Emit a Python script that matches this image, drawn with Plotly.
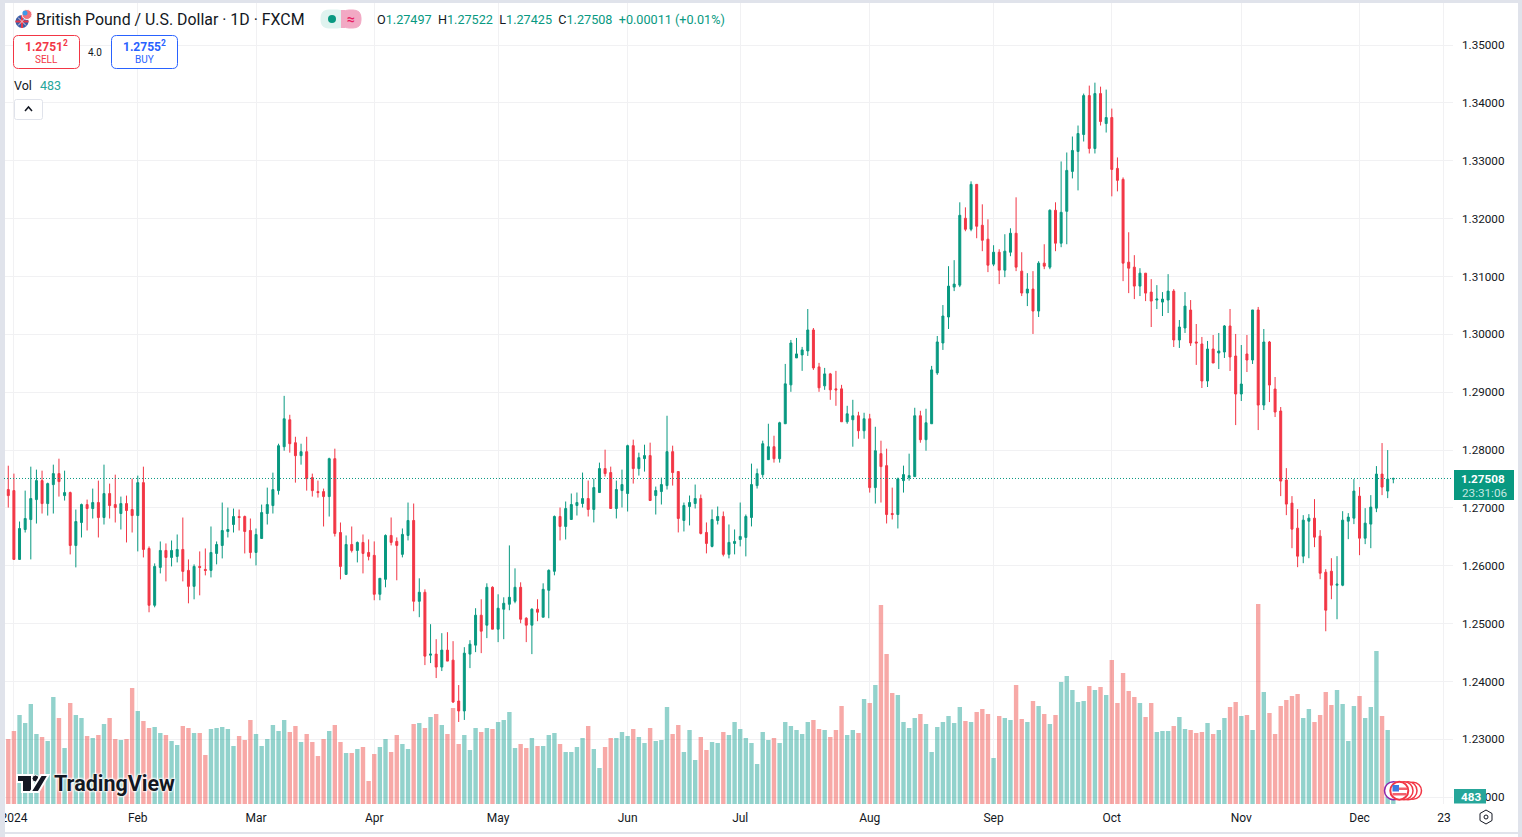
import plotly.graph_objects as go

# daily GBP/USD candles, weekdays from 1 Jan 2024 to 10 Dec 2024
opens = [
    1.27316,1.27298,1.26109,1.26626,1.26798,1.27143,1.27471,1.27074,1.27402,1.27592,
    1.27212,1.27264,1.26350,1.26747,1.27057,1.26988,1.27092,1.26833,1.27247,1.27057,
    1.26902,1.27074,1.26971,1.26867,1.27436,1.26298,1.25316,1.25971,1.26264,1.26143,
    1.26161,1.26281,1.25919,1.25643,1.25988,1.25936,1.25919,1.26212,1.26350,1.26592,
    1.26712,1.26850,1.26850,1.26609,1.26229,1.26471,1.26902,1.27040,1.27298,1.28057,
    1.28523,1.28126,1.27902,1.27971,1.27523,1.27281,1.27281,1.27195,1.27850,1.26574,
    1.25850,1.26367,1.26264,1.26402,1.26229,1.26179,1.25506,1.25765,1.26523,1.26420,
    1.26196,1.26523,1.26782,1.25385,1.25541,1.24454,1.24472,1.24248,1.24541,1.24368,
    1.23661,1.23489,1.24472,1.24627,1.25144,1.24972,1.25627,1.24903,1.25248,1.25334,
    1.25385,1.25627,1.25092,1.24972,1.25248,1.25110,1.25575,1.25903,1.26851,1.26679,
    1.26799,1.27041,1.27075,1.27161,1.26972,1.27265,1.27679,1.27610,1.26989,1.27299,
    1.27248,1.28075,1.27679,1.27851,1.27903,1.27213,1.27282,1.27385,1.27972,1.27627,
    1.26782,1.27023,1.27075,1.27161,1.26575,1.26334,1.26782,1.26851,1.26196,1.26385,
    1.26454,1.26489,1.26834,1.27385,1.27575,1.27833,1.28057,1.27850,1.28454,1.29126,
    1.29592,1.29644,1.29713,1.30075,1.29437,1.29109,1.29316,1.29057,1.29057,1.28488,
    1.28523,1.28592,1.28333,1.28540,1.27350,1.27937,1.27730,1.26902,1.26885,1.27471,
    1.27523,1.27540,1.28592,1.28178,1.28454,1.29333,1.29850,1.30299,1.30816,1.30850,
    1.32006,1.31816,1.32592,1.31885,1.31644,1.31213,1.31419,1.31109,1.31419,1.31747,
    1.31092,1.30713,1.30782,1.30402,1.31230,1.31161,1.32144,1.31575,1.32126,1.32816,
    1.33161,1.33454,1.34126,1.33212,1.34161,1.33643,1.33747,1.32868,1.32678,1.31247,
    1.31161,1.30833,1.31057,1.30730,1.30592,1.30557,1.30592,1.30747,1.29902,1.30109,
    1.30419,1.29868,1.29833,1.29193,1.29746,1.29677,1.29694,1.30144,1.29625,1.28968,
    1.29660,1.29556,1.30421,1.28777,1.29867,1.29054,1.28674,1.27480,1.27082,1.26649,
    1.26165,1.26770,1.26822,1.26511,1.25888,1.25905,1.25663,1.25663,1.26770,1.26822,
    1.27203,1.26476,1.26719,1.26995,1.27584,1.27290,1.27497,
]
highs = [
    1.27729,1.27592,1.26764,1.27298,1.27712,1.27661,1.27643,1.27436,1.27747,1.27850,
    1.27643,1.27281,1.26971,1.27074,1.27143,1.27333,1.27471,1.27747,1.27419,1.27574,
    1.27195,1.27212,1.27505,1.27557,1.27712,1.26333,1.26040,1.26419,1.26385,1.26436,
    1.26540,1.26833,1.26109,1.26023,1.26247,1.26298,1.26678,1.26419,1.27092,1.27005,
    1.26988,1.26971,1.26867,1.26816,1.26643,1.27057,1.27350,1.27609,1.28109,1.28936,
    1.28609,1.28229,1.28109,1.28229,1.27592,1.27471,1.27333,1.27867,1.28023,1.26747,
    1.26523,1.26678,1.26419,1.26540,1.26454,1.26420,1.25782,1.26541,1.26834,1.26489,
    1.26644,1.27092,1.27075,1.25782,1.25592,1.24989,1.24730,1.24834,1.24851,1.24696,
    1.23937,1.24592,1.24713,1.25265,1.25420,1.25696,1.25644,1.25506,1.25454,1.26351,
    1.25954,1.25713,1.25110,1.25265,1.25420,1.25696,1.25937,1.26868,1.27006,1.27110,
    1.27248,1.27265,1.27610,1.27472,1.27506,1.27782,1.28006,1.27713,1.27472,1.27661,
    1.28092,1.28179,1.27954,1.28092,1.28127,1.27368,1.27523,1.28592,1.28075,1.27627,
    1.27092,1.27213,1.27403,1.27230,1.26748,1.26972,1.27023,1.26937,1.26713,1.26627,
    1.27092,1.26885,1.27765,1.27679,1.28161,1.28454,1.28247,1.28488,1.29488,1.29902,
    1.29937,1.29782,1.30437,1.30109,1.29506,1.29419,1.29333,1.29368,1.29126,1.28764,
    1.28868,1.28661,1.28644,1.28626,1.28402,1.28161,1.28023,1.27350,1.27523,1.27730,
    1.27937,1.28730,1.28678,1.28713,1.29454,1.29971,1.30506,1.31178,1.31282,1.32282,
    1.32195,1.32644,1.32592,1.32247,1.31988,1.31540,1.31471,1.31730,1.31833,1.32368,
    1.31419,1.31057,1.31092,1.31264,1.31557,1.32161,1.32282,1.32988,1.33143,1.33419,
    1.33609,1.34161,1.34299,1.34350,1.34281,1.34230,1.33902,1.33057,1.32712,1.31764,
    1.31368,1.31143,1.31057,1.30954,1.30850,1.30730,1.31040,1.30781,1.30247,1.30730,
    1.30592,1.30178,1.29954,1.29885,1.29988,1.30023,1.30161,1.30438,1.30006,1.29815,
    1.29988,1.30421,1.30473,1.30092,1.29885,1.29262,1.28743,1.27687,1.27203,1.26978,
    1.26874,1.26892,1.27151,1.26615,1.25940,1.26130,1.26165,1.26943,1.26909,1.27497,
    1.27359,1.26995,1.27220,1.27722,1.28120,1.27999,1.27522,
]
lows = [
    1.27005,1.26100,1.26100,1.26574,1.26109,1.26729,1.26902,1.26867,1.26902,1.27195,
    1.27126,1.26195,1.25971,1.26488,1.26609,1.26816,1.26488,1.26712,1.26816,1.26747,
    1.26626,1.26402,1.26574,1.26247,1.26143,1.25195,1.25281,1.25867,1.25729,1.25988,
    1.26057,1.25729,1.25350,1.25419,1.25488,1.25833,1.25798,1.26023,1.26126,1.26488,
    1.26574,1.26609,1.26212,1.26126,1.26005,1.26471,1.26712,1.26902,1.27229,1.27988,
    1.27954,1.27436,1.27747,1.27298,1.27195,1.27178,1.26678,1.26850,1.26505,1.25764,
    1.25850,1.26229,1.26057,1.25867,1.26092,1.25403,1.25403,1.25627,1.26351,1.25748,
    1.26144,1.26437,1.25213,1.25110,1.24282,1.24317,1.24058,1.24179,1.24351,1.23627,
    1.23299,1.23334,1.24230,1.24506,1.24489,1.24748,1.24903,1.24679,1.24730,1.25230,
    1.25351,1.25006,1.24679,1.24472,1.25041,1.25110,1.25092,1.25834,1.26437,1.26454,
    1.26799,1.26868,1.27006,1.26851,1.26748,1.27265,1.27541,1.26989,1.26817,1.27006,
    1.26937,1.27420,1.27558,1.27627,1.27127,1.26885,1.27058,1.27317,1.27385,1.26575,
    1.26592,1.26696,1.26989,1.26541,1.26213,1.26317,1.26713,1.26161,1.26127,1.26196,
    1.26334,1.26161,1.26679,1.27334,1.27523,1.27833,1.27782,1.27782,1.28454,1.29006,
    1.29592,1.29368,1.29626,1.29385,1.29006,1.29040,1.28868,1.28764,1.28488,1.28454,
    1.28057,1.28195,1.28195,1.27264,1.27075,1.27092,1.26730,1.26799,1.26644,1.27264,
    1.27471,1.27540,1.28126,1.27988,1.28454,1.29299,1.29730,1.30092,1.30747,1.30816,
    1.31782,1.31782,1.31661,1.31437,1.31075,1.31178,1.30868,1.30988,1.31350,1.31092,
    1.30661,1.30488,1.30006,1.30299,1.31126,1.31126,1.31437,1.31506,1.31557,1.32695,
    1.32488,1.33333,1.33126,1.33126,1.33609,1.33488,1.32385,1.32471,1.30919,1.30712,
    1.30609,1.30661,1.30574,1.30126,1.30436,1.30316,1.30368,1.29781,1.29764,1.30023,
    1.29799,1.29471,1.29072,1.29089,1.29504,1.29400,1.29591,1.29366,1.28431,1.28847,
    1.29348,1.29487,1.28345,1.28691,1.28829,1.28570,1.27203,1.26874,1.26303,1.25975,
    1.26044,1.26130,1.26321,1.25767,1.24867,1.25421,1.25075,1.25646,1.26459,1.26719,
    1.26182,1.26373,1.26303,1.26926,1.27220,1.27168,1.27425,
]
closes = [
    1.27212,1.26109,1.26643,1.26816,1.27161,1.27471,1.27074,1.27419,1.27592,1.27454,
    1.27264,1.26350,1.26764,1.27057,1.26988,1.27092,1.26833,1.27247,1.27040,1.27005,
    1.27074,1.26954,1.26867,1.27436,1.26281,1.25316,1.25988,1.26264,1.26143,1.26264,
    1.26281,1.25902,1.25643,1.25988,1.25971,1.25919,1.26229,1.26367,1.26609,1.26626,
    1.26850,1.26833,1.26592,1.26229,1.26540,1.26919,1.27057,1.27316,1.28074,1.28540,
    1.28109,1.27902,1.27971,1.27505,1.27298,1.27264,1.27195,1.27850,1.26557,1.25988,
    1.26367,1.26264,1.26402,1.26212,1.26161,1.25506,1.25782,1.26523,1.26403,1.26351,
    1.26541,1.26782,1.25385,1.25541,1.24437,1.24472,1.24248,1.24541,1.24351,1.23644,
    1.23489,1.24489,1.24644,1.25144,1.24868,1.25627,1.24903,1.25265,1.25351,1.25454,
    1.25627,1.25075,1.24972,1.25248,1.25196,1.25592,1.25920,1.26851,1.26679,1.26989,
    1.27058,1.27092,1.27161,1.26972,1.27351,1.27679,1.27592,1.26989,1.27317,1.27403,
    1.28075,1.27679,1.27868,1.27903,1.27127,1.27299,1.27403,1.27972,1.27610,1.26817,
    1.27041,1.27092,1.27161,1.26558,1.26385,1.26799,1.26851,1.26196,1.26403,1.26420,
    1.26506,1.26851,1.27403,1.27592,1.28109,1.28057,1.27850,1.28471,1.29144,1.29850,
    1.29661,1.29730,1.30075,1.29419,1.29075,1.29316,1.29040,1.29040,1.28488,1.28626,
    1.28592,1.28333,1.28540,1.27350,1.27988,1.27713,1.26885,1.26885,1.27500,1.27575,
    1.27557,1.28592,1.28178,1.28471,1.29385,1.29868,1.30316,1.30833,1.30868,1.32057,
    1.31816,1.32592,1.31868,1.31626,1.31195,1.31419,1.31109,1.31437,1.31747,1.31161,
    1.30713,1.30782,1.30402,1.31230,1.31178,1.32144,1.31575,1.32109,1.32833,1.33178,
    1.33471,1.34126,1.33212,1.34161,1.33678,1.33747,1.32850,1.32661,1.31230,1.31143,
    1.30833,1.31057,1.30712,1.30574,1.30609,1.30609,1.30747,1.29902,1.30126,1.30488,
    1.29850,1.29850,1.29193,1.29746,1.29504,1.29712,1.30144,1.29608,1.28968,1.29141,
    1.29556,1.30421,1.28777,1.29867,1.29123,1.28656,1.27463,1.27065,1.26632,1.26165,
    1.26788,1.26822,1.26494,1.25871,1.25231,1.25663,1.25681,1.26788,1.26840,1.27290,
    1.26476,1.26736,1.27013,1.27584,1.27359,1.27497,1.27508,
]
volumes = [
    3900,4380,5340,4860,6000,4200,4020,3780,6420,5160,
    3360,6060,5340,5160,4080,3960,4140,4800,5160,3900,
    3840,3900,6960,5580,4980,4560,4620,4260,4140,3780,
    3540,4680,4560,4260,4260,2940,4500,4560,4620,4500,
    3480,4080,3840,5040,4200,3480,3900,4740,4380,5040,
    4320,4680,3720,4200,3720,2880,3900,4380,4740,3720,
    3060,3060,3300,3420,1380,3000,3420,3900,3120,4140,
    3600,3300,4800,4860,4560,5220,5400,4740,4200,5760,
    3600,4140,3240,4560,4320,4560,4500,4920,5040,5520,
    3360,3600,3360,3960,3480,3480,4140,4260,3600,3120,
    3120,3420,3960,4680,3300,2160,3420,3960,3960,4320,
    4080,4500,4020,3660,4560,3780,3840,5820,4200,4740,
    3120,4440,2640,4020,3240,3720,3660,4320,4140,4920,
    4500,3960,3660,2400,4320,3840,3960,3660,4920,4680,
    4440,4200,4920,5040,4500,4440,4020,4440,5880,4140,
    4440,4260,6300,6060,7140,11940,9000,6660,6540,4920,
    4560,5160,5400,4800,3120,4620,4920,5280,4860,5820,
    4980,4920,5520,5700,5400,2760,5280,5160,5040,7140,
    5100,4920,6180,5880,5400,4800,5340,7320,7680,6840,
    6120,6180,7080,6840,7020,6540,8640,6060,7860,6780,
    6420,6060,5220,6060,4320,4380,4380,4680,5220,4500,
    4440,4260,4320,4860,4200,4440,5160,5820,6120,5280,
    5340,4440,12000,6720,5460,4200,5880,6240,6480,6600,
    5160,5700,4920,5340,6720,5940,6840,6000,3780,5880,
    6480,5160,5820,9180,5280,4440,483,
]
tick_bars = [1, 23, 44, 65, 87, 110, 130, 153, 175, 196, 219, 240, 255]
tick_labels = ["2024", "Feb", "Mar", "Apr", "May", "Jun", "Jul", "Aug", "Sep", "Oct", "Nov", "Dec", "23"]
price_ticks = [1.22, 1.23, 1.24, 1.25, 1.26, 1.27, 1.28, 1.29, 1.30, 1.31, 1.32, 1.33, 1.34, 1.35]

UP = "#089981"
DOWN = "#f23645"
TEXT = "#131722"
FRAME = "#e0e3eb"
GRID = "#f1f1f3"
FONT = "Roboto"

W, H = 1522, 837
LEFT, RIGHT, TOP, BOTTOM = 4, 1453, 3, 804


def px(x):
    return (x - LEFT) / (RIGHT - LEFT)


def py(y):
    return (BOTTOM - y) / (BOTTOM - TOP)


bars = list(range(len(opens)))
vol_colors = ["rgba(38,166,154,0.5)" if c >= o else "rgba(239,83,80,0.5)" for o, c in zip(opens, closes)]

fig = go.Figure()
fig.add_trace(go.Bar(x=bars, y=volumes, marker_color=vol_colors, marker_line_width=0, width=0.78,
                     yaxis="y", showlegend=False))
fig.add_trace(go.Candlestick(
    x=bars, open=opens, high=highs, low=lows, close=closes, yaxis="y2", whiskerwidth=0,
    increasing=dict(line=dict(color=UP, width=1), fillcolor=UP),
    decreasing=dict(line=dict(color=DOWN, width=1), fillcolor=DOWN),
    showlegend=False,
))

shapes = []
annotations = []


def rect(x0, y0, x1, y1, fill=None, line=None, width=1, layer="above"):
    shapes.append(dict(type="rect", xref="paper", yref="paper", x0=px(x0), x1=px(x1), y0=py(y0), y1=py(y1),
                       fillcolor=fill or "rgba(0,0,0,0)", line=dict(color=line or "rgba(0,0,0,0)", width=width if line else 0),
                       layer=layer))


def circle(cx, cy, r, fill=None, line=None, width=1):
    shapes.append(dict(type="circle", xref="paper", yref="paper", x0=px(cx - r), x1=px(cx + r), y0=py(cy + r), y1=py(cy - r),
                       fillcolor=fill or "rgba(0,0,0,0)", line=dict(color=line or "rgba(0,0,0,0)", width=width if line else 0),
                       layer="above"))


def outline(points, fill=None, line=None, width=1):
    path = "M " + " L ".join(f"{px(x)},{py(y)}" for x, y in points) + " Z"
    shapes.append(dict(type="path", xref="paper", yref="paper", path=path,
                       fillcolor=fill or "rgba(0,0,0,0)", line=dict(color=line or "rgba(0,0,0,0)", width=width if line else 0),
                       layer="above"))


def rounded(x0, y0, x1, y1, r, line, fill="#ffffff"):
    pts = f"M {px(x0 + r)},{py(y0)} L {px(x1 - r)},{py(y0)} Q {px(x1)},{py(y0)} {px(x1)},{py(y0 + r)} "
    pts += f"L {px(x1)},{py(y1 - r)} Q {px(x1)},{py(y1)} {px(x1 - r)},{py(y1)} "
    pts += f"L {px(x0 + r)},{py(y1)} Q {px(x0)},{py(y1)} {px(x0)},{py(y1 - r)} "
    pts += f"L {px(x0)},{py(y0 + r)} Q {px(x0)},{py(y0)} {px(x0 + r)},{py(y0)} Z"
    shapes.append(dict(type="path", xref="paper", yref="paper", path=pts, fillcolor=fill,
                       line=dict(color=line, width=1), layer="above"))


def segment(x0, y0, x1, y1, color, width):
    shapes.append(dict(type="line", xref="paper", yref="paper", x0=px(x0), x1=px(x1), y0=py(y0), y1=py(y1),
                       line=dict(color=color, width=width), layer="above"))


def label(x, y, text, size=12, color=TEXT, anchor="left", **font):
    annotations.append(dict(xref="paper", yref="paper", x=px(x), y=py(y), text=text, showarrow=False,
                            xanchor=anchor, yanchor="middle", borderpad=0,
                            font=dict(family=FONT, size=size, color=color, **font)))


# outer frame of the widget
rect(0, 0, 5, H, fill=FRAME)
rect(0, 0, W, 3, fill=FRAME)
rect(1518, 0, W, H, fill=FRAME)
rect(0, 832, W, 834, fill=FRAME)

# last price line and its boxes on the axis
shapes.append(dict(type="line", xref="paper", yref="y2", x0=0, x1=1, y0=closes[-1], y1=closes[-1],
                   line=dict(color=UP, width=1, dash="1px,2px"), layer="above"))
rect(1454, 470, 1514, 500, fill=UP)
label(1483, 478.5, f"{closes[-1]:.5f}", 11.7, "#ffffff", "center", weight="bold")
label(1485, 492.5, "23:31:06", 11.7, "#c5e8e2", "center")
rect(1454, 789, 1486, 803.5, fill="#26a69a")
label(1471, 796.5, str(volumes[-1]), 11.7, "#ffffff", "center", weight="bold")

# symbol flags
circle(22, 21.5, 6.5, fill="#3a5ea8")
segment(15.5, 21.5, 28.5, 21.5, "#e8394a", 2)
segment(22, 15, 22, 28, "#e8394a", 2)
segment(18, 17.5, 26, 25.5, "#f4c9d0", 1)
segment(18, 25.5, 26, 17.5, "#f4c9d0", 1)
circle(27, 14.5, 5, fill="#f0727c", line="#ffffff")
circle(25, 13, 2.5, fill="#3d9be9")

label(35, 19.5, "British Pound / U.S. Dollar · 1D · FXCM", 15.9)

# market status pill
rounded(321, 10, 345, 28, 8, "#dff3ef", "#dff3ef")
rect(341, 10, 345, 28, fill="#f2a9c4")
rounded(341, 10, 361, 28, 8, "#f2a9c4", "#f2a9c4")
rect(339, 10, 341, 28, fill="#dff3ef")
circle(332, 19, 4, fill=UP)
label(351, 19, "≈", 14, "#e91e63", "center", weight="bold")

num = f'<span style="color:{UP}">%s</span>'
label(376, 19.5, "O" + num % "1.27497" + "  H" + num % "1.27522" + "  L" + num % "1.27425" + "  C" + num % "1.27508"
      + "  " + num % "+0.00011 (+0.01%)", 12.65)

# sell and buy boxes
rounded(13.5, 35.5, 79.5, 68.5, 5, DOWN)
label(46.5, 45.5, "1.2751<sup>2</sup>", 12, DOWN, "center", weight="bold")
label(46.5, 60, "SELL", 10, DOWN, "center")
label(95, 52, "4.0", 10, TEXT, "center")
rounded(111.5, 35.5, 177.5, 68.5, 5, "#2962ff")
label(144.5, 45.5, "1.2755<sup>2</sup>", 12, "#2962ff", "center", weight="bold")
label(144.5, 60, "BUY", 10, "#2962ff", "center")

# volume legend and collapse button
label(13, 85.5, "Vol", 12.5)
label(39, 85.5, str(volumes[-1]), 12.5, "#26a69a")
rounded(14.5, 99.5, 42.5, 119.5, 2, FRAME)
shapes.append(dict(type="path", xref="paper", yref="paper", layer="above",
                   path=f"M {px(25)},{py(111)} L {px(28.5)},{py(107)} L {px(32)},{py(111)}",
                   line=dict(color=TEXT, width=1.5)))

# watermark logo
logo = "#131722"
outline([(17, 775), (32, 775), (32, 792), (22, 792), (22, 782), (17, 782)], fill=logo, line="#ffffff", width=2)
circle(35.5, 778.5, 3.5, fill=logo, line="#ffffff", width=1)
outline([(41, 775), (48.5, 775), (38.5, 792), (30.5, 792)], fill=logo, line="#ffffff", width=2)
label(53, 783, "TradingView", 21.5, logo, weight="bold",
      shadow="0 0 2px #fff, 0 0 2px #fff, 0 0 3px #fff, 0 0 3px #fff")

# event flags over the last bars
circle(1413, 790.7, 8.5, fill="#ffffff", line="#f23645", width=1.5)
circle(1408, 790.7, 9, fill="#ffffff", line="#f23645", width=1.5)
circle(1404, 790.7, 9, fill="#ffffff", line="#f23645", width=1.5)
circle(1393.5, 790.7, 9, fill="#ffffff", line="#8e24aa", width=1.5)
circle(1399.3, 790.7, 9, fill="#ffffff", line="#f23645", width=2)
rect(1392.5, 793, 1406.5, 795.5, fill="#f2606c")
rect(1399, 787.5, 1407, 790, fill="#f2606c")
rect(1392.5, 785, 1399, 791.5, fill="#3d7be0")

# settings icon under the price axis
outline([(1486, 810), (1492, 813.5), (1492, 820.5), (1486, 824), (1480, 820.5), (1480, 813.5)], line=TEXT, width=1)
circle(1486, 817, 2, line=TEXT)

fig.update_layout(
    width=W, height=H,
    margin=dict(l=LEFT, r=W - RIGHT, t=TOP, b=H - BOTTOM, pad=0, autoexpand=False),
    plot_bgcolor="#ffffff", paper_bgcolor="#ffffff",
    font=dict(family=FONT, size=12, color=TEXT),
    boxgap=0.5,
    bargap=0.2,
    hovermode=False,
    xaxis=dict(range=[-0.76, 256.6], rangeslider=dict(visible=False), tickmode="array",
               tickvals=tick_bars, ticktext=tick_labels, tickangle=0, showgrid=True, gridcolor=GRID, gridwidth=1,
               ticks="", ticklabelstandoff=5, zeroline=False, showline=False, tickfont=dict(size=12)),
    yaxis=dict(range=[0, 801 * 60], visible=False, showgrid=False, fixedrange=True),
    yaxis2=dict(range=[1.21881, 1.35727], overlaying="y", side="right", tickmode="array", tickvals=price_ticks,
                tickformat=".5f", showgrid=True, gridcolor=GRID, gridwidth=1, zeroline=False, showline=False,
                ticks="", ticklabelstandoff=8, tickfont=dict(size=11.7)),
    shapes=shapes,
    annotations=annotations,
)

fig.write_html("out.html", config=dict(displayModeBar=False),
               post_script="document.body.style.margin='0';document.body.style.overflow='hidden';")
